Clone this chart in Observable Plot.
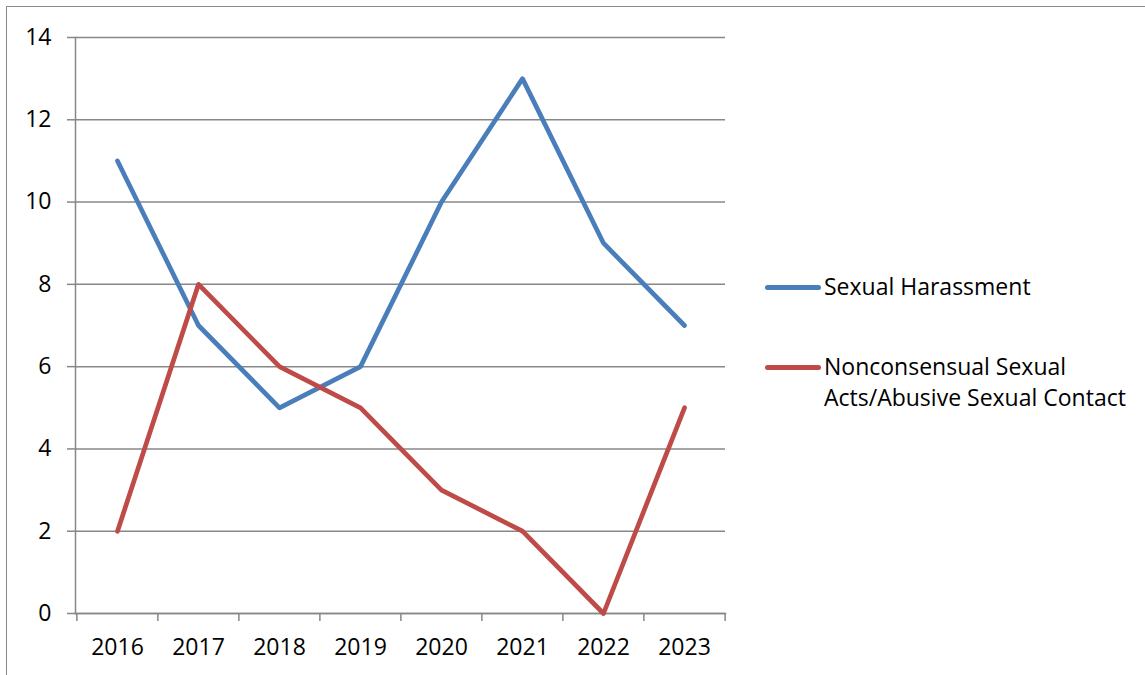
<!DOCTYPE html>
<html>
<head>
<meta charset="utf-8">
<script src="https://cdn.jsdelivr.net/npm/d3@7"></script>
<script src="https://cdn.jsdelivr.net/npm/@observablehq/plot@0.6"></script>
<style>
  html, body { margin: 0; padding: 0; background: #fff; }
  #wrap { position: relative; width: 1145px; height: 675px; overflow: hidden; font-family: "Open Sans", sans-serif; }
  #border { position: absolute; left: 6px; top: 6px; width: 1200px; height: 800px; border-left: 1.3px solid #8a8a8a; border-top: 1.3px solid #8a8a8a; }
  #chart { position: absolute; left: 0; top: 0; }
  .leg { position: absolute; left: 765px; font-size: 23px; color: #000; line-height: 31px; }
  .leg .sw { position: absolute; left: 0; width: 56px; height: 4.5px; border-radius: 3px; }
  .leg .tx { position: absolute; left: 59px; top: 0; white-space: nowrap; }
</style>
</head>
<body>
<div id="wrap">
  <div id="border"></div>
  <div id="chart"></div>
  <div id="legend"></div>
</div>
<script>
const years = ["2016", "2017", "2018", "2019", "2020", "2021", "2022", "2023"];
const harassment = [11, 7, 5, 6, 10, 13, 9, 7];
const nonconsensual = [2, 8, 6, 5, 3, 2, 0, 5];
const seriesNames = ["Sexual Harassment", "Nonconsensual Sexual\nActs/Abusive Sexual Contact"];
const seriesColors = ["#4a7ebb", "#be4b48"];
const yTicks = [0, 2, 4, 6, 8, 10, 12, 14];

const rows = [];
years.forEach((y, i) => {
  rows.push({year: y, value: harassment[i], series: seriesNames[0]});
  rows.push({year: y, value: nonconsensual[i], series: seriesNames[1]});
});

const W = 1145, H = 675, mL = 75, mR = 420, mT = 37, mB = 62;
const step = (W - mL - mR) / years.length;
const gray = "#878787";

const chart = Plot.plot({
  width: W,
  height: H,
  marginLeft: mL,
  marginRight: mR,
  marginTop: mT,
  marginBottom: mB,
  style: {fontFamily: "Open Sans, sans-serif", fontSize: "23px", color: "#000", background: "transparent"},
  x: {type: "point", domain: years, padding: 0.5},
  y: {domain: [0, 14]},
  color: {domain: seriesNames, range: seriesColors},
  marks: [
    Plot.gridY(yTicks, {stroke: gray, strokeOpacity: 1, strokeWidth: 1.5}),
    Plot.axisY(yTicks, {tickSize: 8, tickPadding: 16, stroke: gray, strokeWidth: 1.5, fill: "#000", fontSize: 23, label: null}),
    Plot.frame({anchor: "left", stroke: gray, strokeWidth: 1.5}),
    Plot.frame({anchor: "bottom", stroke: gray, strokeWidth: 1.5}),
    Plot.axisX(years, {tickSize: 0, tickPadding: 25, fill: "#000", fontSize: 23, label: null}),
    Plot.axisX(years, {tickSize: 8, tickFormat: () => "", dx: -step / 2, stroke: gray, strokeWidth: 1.5, label: null}),
    Plot.axisX([years[years.length - 1]], {tickSize: 8, tickFormat: () => "", dx: step / 2, stroke: gray, strokeWidth: 1.5, label: null}),
    Plot.line(rows, {x: "year", y: "value", stroke: "series", z: "series", strokeWidth: 4.7, strokeLinejoin: "round", strokeLinecap: "round"})
  ]
});
document.getElementById("chart").appendChild(chart);

// Legend
const legend = document.getElementById("legend");
const legendTops = [271, 351];
seriesNames.forEach((name, i) => {
  const d = document.createElement("div");
  d.className = "leg";
  d.style.top = legendTops[i] + "px";
  const sw = document.createElement("div");
  sw.className = "sw";
  sw.style.background = seriesColors[i];
  sw.style.top = "14px";
  const tx = document.createElement("div");
  tx.className = "tx";
  tx.innerHTML = name.split("\n").join("<br>");
  d.appendChild(sw);
  d.appendChild(tx);
  legend.appendChild(d);
});
</script>
</body>
</html>
